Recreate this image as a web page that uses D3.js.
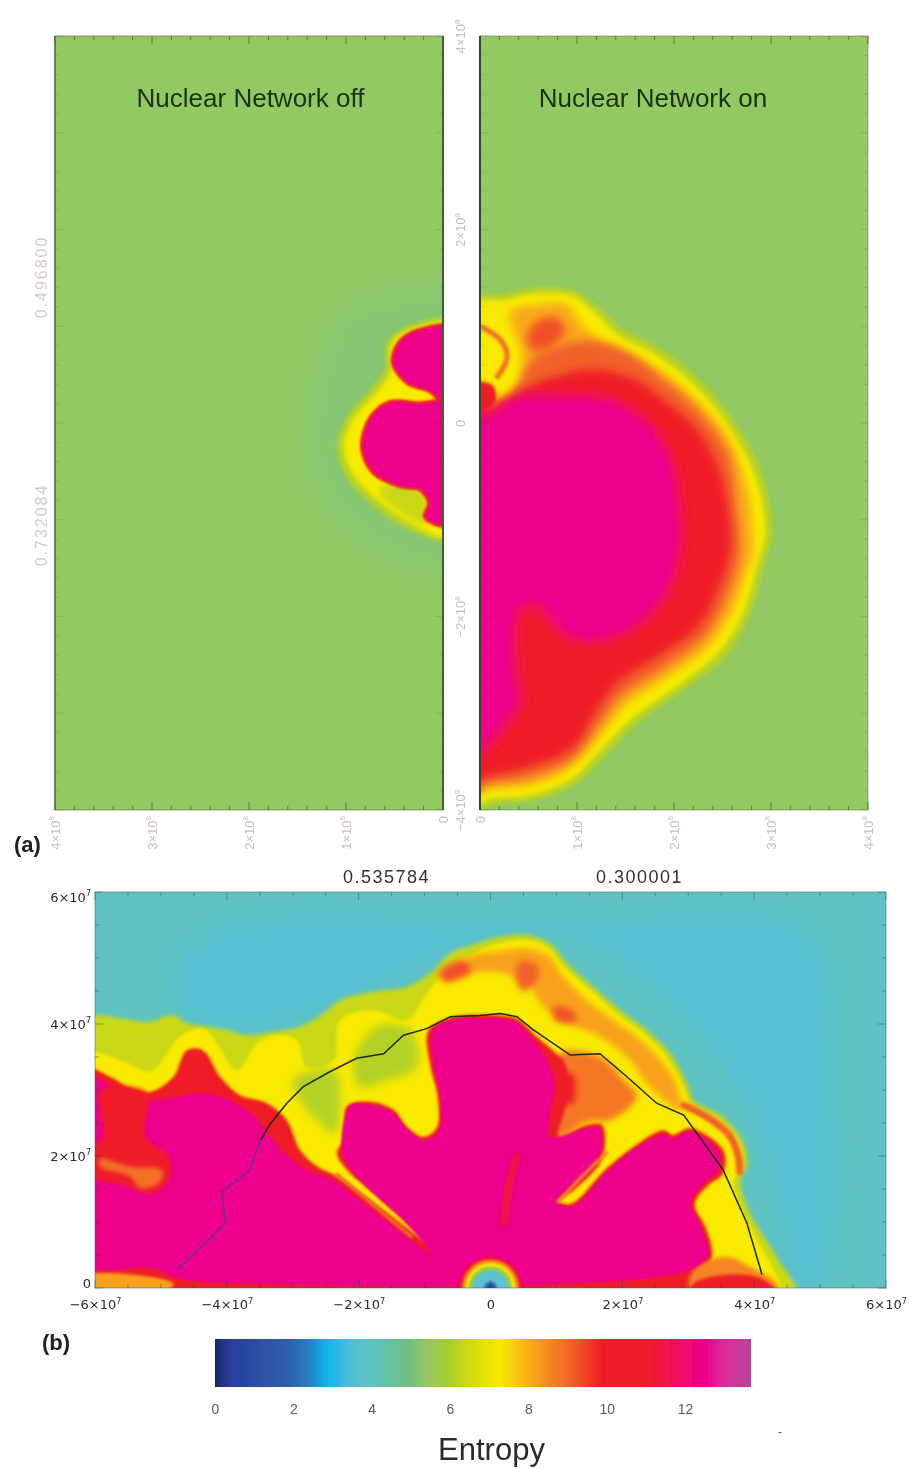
<!DOCTYPE html>
<html lang="en">
<head>
<meta charset="UTF-8">
<title>Entropy</title>
<script src="https://cdn.jsdelivr.net/npm/d3@7/dist/d3.min.js"></script>
<style>
  html, body { margin: 0; padding: 0; background: #fff; }
  svg { display: block; }
  text { font-family: "Liberation Sans", Arial, sans-serif; }
</style>
</head>
<body>
<script>
// colour bar: entropy level -> colour
var barLevels = [0, 0.12, 0.4, 1.9, 2.4, 2.85, 3.4, 3.7, 4.1, 4.9, 5.4, 5.9, 6.6, 7.25, 7.95, 8.5, 9, 9.9, 11, 11.8, 12.5, 12.9, 13.68];
var barColors = ["#1a2560", "#232f7c", "#2c3f9c", "#2f62ad", "#2a80c2", "#10b6ea", "#4cbcdc", "#5cc2d0", "#60c3b8", "#6fbf80", "#93c862", "#a6cd30", "#d8dc10", "#f8ea00", "#fab418", "#f68a20", "#f26a2a", "#ee1c25", "#ee1c2a", "#ee1060", "#ec008c", "#e0289a", "#b8459c"];
var barTicks = [0, 2, 4, 6, 8, 10, 12];

// panel (a) axes, units of 1e6
var aXTicks = [0, 100, 200, 300, 400];
var aYTicks = [400, 200, 0, -200, -400];
var aLabels = {"400": "4×10^8", "300": "3×10^8", "200": "2×10^8", "100": "1×10^8", "0": "0", "-200": "−2×10^8", "-400": "−4×10^8"};

// panel (a) left, contours [radius, height]
var offHalo = [[15,140],[100,120],[135,40],[140,-40],[100,-110],[30,-150],[-20,-150],[-20,140]];
var offEdge = [[-20,104],[37,99],[58,83],[60,55],[75,34],[99,6],[109,-25],[99,-56],[75,-83],[41,-107],[3,-122],[-20,-124]];
var offYellow = [[-20,100],[37,95],[53,81],[54,53],[69,31],[93,3],[102,-25],[93,-52],[70,-77],[39,-100],[3,-118],[-20,-120]];
var offPatch = [[66,-70],[29,-62],[15,-104],[44,-92]];
var offBlobTop = [[-20,98],[27,96],[46,83],[52,62],[37,41],[13,32],[1,21],[-20,21]];
var offBlobLow = [[-20,21],[24,21],[55,22],[75,6],[84,-25],[72,-52],[44,-66],[24,-69],[15,-83],[19,-97],[1,-107],[-20,-107]];

// panel (a) right
var onEdge = [[-20,124],[26,133],[52,139],[96,137],[121,120],[144,99],[189,75],[230,41],[261,3],[289,-49],[301,-111],[294,-142],[277,-200],[253,-242],[209,-276],[162,-310],[134,-338],[100,-372],[59,-389],[3,-398],[-20,-420]];
var onYellow = [[-20,118],[26,127],[52,133],[95,131],[118,114],[141,92],[185,68],[226,34],[256,-3],[282,-51],[294,-111],[287,-142],[270,-198],[246,-237],[204,-271],[157,-305],[129,-333],[95,-367],[55,-384],[2,-392],[-20,-420]];
var onOrange = [[31,114],[59,122],[90,122],[106,100],[144,72],[189,52],[224,22],[255,-14],[275,-66],[281,-134],[273,-157],[262,-190],[234,-232],[192,-263],[150,-291],[125,-322],[93,-356],[52,-374],[3,-380],[-20,-400],[-20,-2],[18,16],[38,34],[43,72]];
var onDeep = [[30,30],[59,70],[113,85],[155,72],[189,45],[224,14],[255,-30],[265,-90],[268,-135],[255,-180],[232,-220],[190,-253],[147,-281],[124,-310],[95,-347],[52,-366],[5,-374],[-20,-390],[-20,12]];
var onRed = [[-20,12],[18,16],[59,41],[113,55],[155,47],[189,24],[224,-7],[247,-49],[256,-90],[258,-131],[244,-176],[224,-211],[182,-242],[141,-269],[121,-296],[96,-335],[52,-355],[7,-366],[-20,-380]];
var onPink = [[-20,10],[10,12],[38,30],[86,35],[137,29],[181,0],[203,-40],[211,-83],[211,-134],[197,-180],[168,-213],[131,-230],[96,-230],[70,-210],[55,-197],[45,-200],[45,-262],[48,-292],[25,-325],[3,-345],[-20,-352]];
var onCore = [[-20,8],[7,6],[38,24],[86,27],[137,21],[175,-4],[196,-41],[203,-83],[203,-134],[189,-176],[162,-207],[131,-221],[96,-221],[75,-203],[59,-186],[41,-190],[34,-211],[34,-262],[38,-289],[18,-317],[3,-335],[-20,-345]];
var onHotSpot = [[48,88],[60,106],[80,108],[88,96],[72,78],[55,75]];
var onArc = [[2,99],[21,86],[28,68],[18,48]];
var onWallPatch = [[-20,40],[13,39],[15,21],[-20,5]];

// panel (b) axes, units of 1e5
var bXTicks = [-600, -400, -200, 0, 200, 400, 600];
var bYTicks = [0, 200, 400, 600];
var bLabels = {"-600": "−6×10^7", "-400": "−4×10^7", "-200": "−2×10^7", "0": "0", "200": "2×10^7", "400": "4×10^7", "600": "6×10^7"};

// panel (b) contours [x, y]
var bBlueZone = [[-420,540],[-60,560],[200,560],[480,540],[520,300],[510,30],[470,-20],[440,120],[400,260],[300,400],[120,530],[-60,500],[-250,420],[-420,390],[-480,450]];
var bEdge = [[-620,406],[-557,408],[-521,403],[-481,413],[-461,401],[-430,396],[-400,391],[-370,383],[-329,388],[-289,396],[-253,416],[-228,436],[-177,449],[-127,456],[-91,477],[-61,507],[-26,520],[5,530],[55,535],[90,522],[116,492],[156,456],[197,421],[237,391],[273,355],[298,310],[308,285],[353,259],[384,219],[389,184],[379,163],[394,113],[434,47],[465,-20],[-620,-20]];
var bYellow = [[-620,355],[-557,343],[-516,328],[-491,355],[-471,381],[-436,393],[-415,371],[-385,330],[-354,371],[-329,383],[-294,376],[-279,335],[-238,345],[-228,406],[-177,421],[-127,406],[-97,446],[-61,487],[-21,509],[5,520],[55,527],[85,517],[111,487],[151,451],[191,416],[232,386],[267,350],[293,305],[303,280],[348,252],[379,214],[381,179],[369,163],[384,113],[419,47],[444,-1],[450,-20],[-620,-20]];
var bGreenA = [[-299,315],[-238,330],[-228,295],[-238,235],[-263,255],[-283,275]];
var bGreenB = [[-208,345],[-172,396],[-122,391],[-112,335],[-157,315],[-198,305]];
var bShell = [[-81,472],[-26,504],[5,509],[55,514],[90,502],[106,477],[146,436],[186,406],[227,376],[262,340],[283,305],[288,270],[242,305],[207,350],[166,381],[106,406],[80,426],[55,461],[20,477],[-31,477],[-61,467]];
var bInnerOrange = [[105,355],[166,350],[202,315],[222,290],[181,254],[146,252],[100,224],[90,290]];
var bLowerOrange = [[308,27],[358,47],[394,32],[434,7],[434,-8],[303,-8]];
var bLowerRed = [[308,7],[358,20],[409,15],[430,-1],[430,-10],[300,-10]];
var bRed = [[-620,333],[-577,320],[-546,302],[-516,297],[-481,320],[-461,360],[-436,360],[-410,320],[-380,292],[-339,280],[-309,254],[-289,209],[-263,184],[-233,169],[-81,57],[-127,98],[-177,143],[-218,179],[-233,204],[-220,229],[-218,275],[-181,282],[-147,270],[-127,244],[-101,229],[-81,244],[-81,295],[-91,335],[-94,391],[-56,411],[-46,413],[15,413],[40,408],[70,381],[106,350],[111,345],[121,305],[111,264],[103,229],[146,247],[169,247],[174,219],[166,189],[126,148],[103,131],[123,128],[176,181],[217,214],[262,239],[277,232],[303,242],[353,209],[353,174],[331,156],[310,128],[328,88],[336,47],[318,22],[300,-20],[-620,-20]];
var bCore = [[-620,322],[-577,307],[-546,290],[-511,285],[-476,290],[-436,295],[-400,287],[-360,262],[-334,229],[-309,201],[-279,179],[-238,163],[-198,133],[-147,93],[-91,52],[-132,103],[-177,143],[-215,184],[-226,214],[-212,277],[-181,277],[-147,265],[-127,242],[-101,224],[-79,237],[-76,290],[-86,335],[-87,391],[-56,406],[-46,408],[15,408],[40,401],[65,376],[88,340],[98,305],[90,264],[90,229],[106,229],[146,242],[165,242],[169,219],[161,189],[126,153],[100,133],[123,123],[176,176],[217,209],[262,233],[277,227],[303,237],[346,206],[346,179],[326,161],[305,131],[321,88],[331,50],[308,30],[257,17],[55,4],[-46,2],[-76,2],[-279,4],[-471,14],[-516,30],[-620,37]];
var bLeftRed = [[-590,300],[-521,295],[-524,229],[-488,199],[-488,163],[-516,143],[-557,156],[-620,175],[-620,215],[-588,225]];
var bLeftOrange = [[-592,196],[-547,184],[-499,179],[-501,161],[-531,151],[-547,169],[-592,184]];
var bFloorRed = [[-620,37],[-516,32],[-471,16],[-400,4],[-400,-10],[-620,-10]];
var bFloorOrange = [[-620,17],[-500,14],[-480,5],[-500,-6],[-620,-6]];
var bStreakLeft = [[-233,172],[-190,136],[-147,100],[-120,78]];
var bStreakMid = [[103,131],[140,170],[176,205]];
var bStreakCentre = [[40,199],[30,163],[20,98]];
var bStreakOuter = [[293,277],[318,265],[343,249],[364,229],[376,199],[378,176]];
var bAccentA = [[45,495],[70,490],[72,470],[50,450],[38,470]];
var bAccentB = [[95,425],[125,420],[130,405],[100,405]];
var bAccentC = [[-75,480],[-40,495],[-30,480],[-70,465]];
var bAccentD = [[110,320],[125,325],[125,280],[105,285]];
var bRingRadii = [47, 43, 38, 33, 27, 10, 5];
var bRingLevels = [10.3, 8.5, 7.25, 5.6, 3.7, 2.2, 0.4];

// upper shock track, first part sits on the magenta
var trackLow = [[-473,30],[-402,98],[-407,146],[-365,179],[-349,224]];
var trackHigh = [[-349,224],[-334,249],[-309,280],[-284,305],[-243,328],[-203,348],[-162,355],[-132,383],[-97,393],[-61,411],[-16,413],[15,416],[40,411],[65,391],[121,353],[166,355],[207,320],[252,280],[293,262],[353,179],[389,98],[412,20]];

var width = 912, height = 1469;
var svg = d3.select("body").append("svg").attr("width", width).attr("height", height);
var defs = svg.append("defs");

var color = d3.scaleLinear().domain(barLevels).range(barColors).interpolate(d3.interpolateRgb);

[0.5, 0.9, 1.5, 2.2, 3, 4.5, 14].forEach(function (s) {
  defs.append("filter").attr("id", "blur" + String(s).replace(".", "_"))
    .attr("filterUnits", "userSpaceOnUse")
    .attr("x", 0).attr("y", 0).attr("width", width).attr("height", height)
    .append("feGaussianBlur").attr("stdDeviation", s);
});
function blurId(s) { return "url(#blur" + String(s).replace(".", "_") + ")"; }

function addClip(id, x0, y0, x1, y1) {
  defs.append("clipPath").attr("id", id).append("rect")
    .attr("x", x0).attr("y", y0).attr("width", x1 - x0).attr("height", y1 - y0);
}

function region(g, x, y, pts, level, blur) {
  var line = d3.line().x(function (d) { return x(d[0]); }).y(function (d) { return y(d[1]); })
    .curve(d3.curveCatmullRomClosed.alpha(0.5));
  return g.append("path").attr("d", line(pts)).attr("fill", color(level)).attr("filter", blurId(blur));
}
function streak(g, x, y, pts, level, w, blur) {
  var line = d3.line().x(function (d) { return x(d[0]); }).y(function (d) { return y(d[1]); })
    .curve(d3.curveCatmullRom.alpha(0.5));
  return g.append("path").attr("d", line(pts)).attr("fill", "none").attr("stroke", color(level))
    .attr("stroke-width", w).attr("stroke-linecap", "round").attr("filter", blurId(blur));
}

// "4×10^8" -> text plus a raised exponent
function sciText(sel, str, size) {
  var parts = str.split("^");
  sel.text(parts[0]);
  if (parts[1]) {
    sel.append("tspan").attr("dy", -size * 0.42).attr("font-size", size * 0.62).text(parts[1]);
  }
}

// ---- panel (a)
var aTop = 36, aBottom = 810;
var yA = d3.scaleLinear().domain([400, -400]).range([aTop, aBottom]);
var xOff = d3.scaleLinear().domain([400, 0]).range([55, 443]);
var xOn = d3.scaleLinear().domain([0, 400]).range([480, 868]);
addClip("clipOff", 55, aTop, 443, aBottom);
addClip("clipOn", 480, aTop, 868, aBottom);

var gOff = svg.append("g").attr("clip-path", "url(#clipOff)");
gOff.append("rect").attr("x", 55).attr("y", aTop).attr("width", 388).attr("height", aBottom - aTop).attr("fill", color(5.4));
region(gOff, xOff, yA, offHalo, 4.6, 14).attr("opacity", 0.3);
region(gOff, xOff, yA, offEdge, 6.2, 2.2);
region(gOff, xOff, yA, offYellow, 7.25, 2.2);
region(gOff, xOff, yA, offPatch, 6.4, 3);
[offBlobTop, offBlobLow].forEach(function (b) {
  region(gOff, xOff, yA, b, 12.5, 0.9).attr("stroke", color(10)).attr("stroke-width", 3);
});

var gOn = svg.append("g").attr("clip-path", "url(#clipOn)");
gOn.append("rect").attr("x", 480).attr("y", aTop).attr("width", 388).attr("height", aBottom - aTop).attr("fill", color(5.4));
region(gOn, xOn, yA, onEdge, 6.2, 2.2);
region(gOn, xOn, yA, onYellow, 7.25, 2.2);
region(gOn, xOn, yA, onOrange, 8.1, 4.5);
region(gOn, xOn, yA, onHotSpot, 9.3, 4.5);
region(gOn, xOn, yA, onDeep, 9.1, 4.5);
streak(gOn, xOn, yA, onArc, 9, 5, 1.5);
region(gOn, xOn, yA, onWallPatch, 10.5, 1.5);
region(gOn, xOn, yA, onRed, 10.4, 4.5);
region(gOn, xOn, yA, onPink, 11.5, 4.5);
region(gOn, xOn, yA, onCore, 12.5, 4.5);

// frame and ticks, the side ticks can be fainter than the top and bottom ones
function panelTicks(x, y, x0, x1, y0, y1, major, step, stroke, sideStroke) {
  var g = svg.append("g").attr("fill", "none");
  var xVals = d3.range(d3.min(x.domain()), d3.max(x.domain()) + 0.001, step);
  var yVals = d3.range(d3.min(y.domain()), d3.max(y.domain()) + 0.001, step);
  function len(v) { return v % major === 0 ? 8 : 4; }
  [[y1, -1], [y0, 1]].forEach(function (e) {
    g.selectAll(null).data(xVals).enter().append("line")
      .attr("x1", function (d) { return x(d); }).attr("x2", function (d) { return x(d); })
      .attr("y1", e[0]).attr("y2", function (d) { return e[0] + e[1] * len(d); })
      .attr("stroke", stroke);
  });
  [[x0, 1], [x1, -1]].forEach(function (e) {
    g.selectAll(null).data(yVals).enter().append("line")
      .attr("y1", function (d) { return y(d); }).attr("y2", function (d) { return y(d); })
      .attr("x1", e[0]).attr("x2", function (d) { return e[0] + e[1] * len(d); })
      .attr("stroke", sideStroke);
  });
  return g;
}
panelTicks(xOff, yA, 55, 443, aTop, aBottom, 100, 20, "rgba(40,90,30,0.6)", "rgba(40,90,30,0.15)").attr("filter", blurId(0.5));
panelTicks(xOn, yA, 480, 868, aTop, aBottom, 100, 20, "rgba(40,90,30,0.6)", "rgba(40,90,30,0.15)").attr("filter", blurId(0.5));

svg.append("rect").attr("x", 55).attr("y", aTop).attr("width", 388).attr("height", aBottom - aTop)
  .attr("fill", "none").attr("stroke", "rgba(50,90,40,0.5)").attr("stroke-width", 1);
svg.append("rect").attr("x", 480).attr("y", aTop).attr("width", 388).attr("height", aBottom - aTop)
  .attr("fill", "none").attr("stroke", "rgba(50,90,40,0.4)").attr("stroke-width", 1);
svg.append("line").attr("x1", 55).attr("x2", 55).attr("y1", aTop).attr("y2", aBottom).attr("stroke", "#4d7a3a").attr("stroke-width", 1.5);
svg.append("line").attr("x1", 443).attr("x2", 443).attr("y1", aTop).attr("y2", aBottom).attr("stroke", "#3f5f30").attr("stroke-width", 2);
svg.append("line").attr("x1", 480).attr("x2", 480).attr("y1", aTop).attr("y2", aBottom).attr("stroke", "#33482c").attr("stroke-width", 2);

// soft text layer, the filter sits on a group with no offset
var softText = svg.append("g").attr("filter", blurId(0.5));

// faint rotated labels of panel (a)
var faint = "#c9bcc4";
function faintAxisX(x, vals) {
  var g = softText.append("g").attr("transform", "translate(0," + aBottom + ")")
    .call(d3.axisBottom(x).tickValues(vals).tickSize(0).tickFormat(function () { return ""; }));
  g.select(".domain").remove();
  g.selectAll("text").attr("fill", faint).attr("font-size", 13).attr("text-anchor", "end")
    .attr("x", 0).attr("dy", 0).attr("y", 0)
    .attr("transform", "translate(4,6) rotate(-90)")
    .each(function (d) { sciText(d3.select(this), aLabels[d], 13); });
}
faintAxisX(xOff, aXTicks.slice(1).concat([0]));
faintAxisX(xOn, aXTicks);

var gutter = softText.append("g").attr("transform", "translate(461,0)")
  .call(d3.axisRight(yA).tickValues(aYTicks).tickSize(0).tickFormat(function () { return ""; }));
gutter.select(".domain").remove();
gutter.selectAll("text").attr("fill", faint).attr("font-size", 13).attr("text-anchor", "middle")
  .attr("x", 0).attr("y", 0).attr("dy", 0).attr("transform", "translate(4,0) rotate(-90)")
  .each(function (d) { sciText(d3.select(this), aLabels[d], 13); });

[["0.496800", 277], ["0.732084", 525]].forEach(function (t) {
  softText.append("text").text(t[0]).attr("transform", "translate(47," + t[1] + ") rotate(-90)")
    .attr("text-anchor", "middle").attr("font-size", 16).attr("letter-spacing", 2)
    .attr("fill", "#d5c8d0");
});

var titleColor = "#1c3318";
softText.append("text").text("Nuclear Network off").attr("x", 250.5).attr("y", 107).attr("text-anchor", "middle")
  .attr("font-size", 26).attr("fill", titleColor);
softText.append("text").text("Nuclear Network on").attr("x", 653).attr("y", 107).attr("text-anchor", "middle")
  .attr("font-size", 26).attr("fill", titleColor);
softText.append("text").text("(a)").attr("x", 14).attr("y", 852).attr("font-size", 22).attr("font-weight", "bold").attr("fill", "#222");
softText.append("text").text("(b)").attr("x", 42).attr("y", 1350).attr("font-size", 22).attr("font-weight", "bold").attr("fill", "#222");
softText.append("text").text("0.535784").attr("x", 386.5).attr("y", 883).attr("text-anchor", "middle").attr("font-size", 18).attr("letter-spacing", 1.5).attr("fill", "#333");
softText.append("text").text("0.300001").attr("x", 639.5).attr("y", 883).attr("text-anchor", "middle").attr("font-size", 18).attr("letter-spacing", 1.5).attr("fill", "#333");

// ---- panel (b)
var bLeft = 95, bRight = 886, bTop = 892, bBottom = 1288;
var xB = d3.scaleLinear().domain([-600, 600]).range([bLeft, bRight]);
var yB = d3.scaleLinear().domain([0, 600]).range([bBottom, bTop]);
addClip("clipB", bLeft, bTop, bRight, bBottom);

var gB = svg.append("g").attr("clip-path", "url(#clipB)");
gB.append("rect").attr("x", bLeft).attr("y", bTop).attr("width", bRight - bLeft).attr("height", bBottom - bTop).attr("fill", color(3.95));
region(gB, xB, yB, bBlueZone, 3.6, 14);
region(gB, xB, yB, bEdge, 6.4, 2.2);
region(gB, xB, yB, bYellow, 7.25, 1.5);
region(gB, xB, yB, bGreenA, 6.1, 4.5);
region(gB, xB, yB, bGreenB, 6.1, 4.5);
region(gB, xB, yB, bShell, 8.2, 3);
region(gB, xB, yB, bAccentA, 9.1, 3);
region(gB, xB, yB, bAccentB, 9.3, 3);
region(gB, xB, yB, bAccentC, 9.3, 3);
region(gB, xB, yB, bInnerOrange, 8.8, 3);
region(gB, xB, yB, bAccentD, 10.2, 3);
streak(gB, xB, yB, bStreakOuter, 9.1, 7, 1.5);
region(gB, xB, yB, bRed, 10.3, 1.5);
region(gB, xB, yB, bLowerOrange, 8.6, 2.2);
region(gB, xB, yB, bLowerRed, 10.2, 1.5);
region(gB, xB, yB, bFloorRed, 10.3, 0.9);
region(gB, xB, yB, bCore, 12.5, 0.9);
region(gB, xB, yB, bLeftRed, 10.4, 2.2);
region(gB, xB, yB, bLeftOrange, 8.9, 2.2);
region(gB, xB, yB, bFloorOrange, 8.2, 1.5);
streak(gB, xB, yB, bStreakLeft, 9, 3.5, 0.9);
streak(gB, xB, yB, bStreakMid, 8.6, 3.5, 0.9);
streak(gB, xB, yB, bStreakCentre, 11, 6, 2.2);

gB.selectAll("circle.ring").data(bRingRadii).enter().append("circle")
  .attr("class", "ring")
  .attr("cx", xB(0)).attr("cy", yB(0))
  .attr("r", function (d) { return xB(d) - xB(0); })
  .attr("fill", function (d, i) { return color(bRingLevels[i]); })
  .attr("filter", blurId(0.9));

var track = d3.line().x(function (d) { return xB(d[0]); }).y(function (d) { return yB(d[1]); });
gB.append("path").attr("d", track(trackLow)).attr("fill", "none").attr("stroke", "#7a2a96").attr("stroke-width", 1.6).attr("filter", blurId(0.5));
gB.append("path").attr("d", track(trackHigh)).attr("fill", "none").attr("stroke", "#1f2a14").attr("stroke-width", 1.5).attr("filter", blurId(0.5));

panelTicks(xB, yB, bLeft, bRight, bTop, bBottom, 200, 50, "rgba(25,70,70,0.4)", "rgba(25,70,70,0.4)").attr("filter", blurId(0.5));
svg.append("rect").attr("x", bLeft).attr("y", bTop).attr("width", bRight - bLeft).attr("height", bBottom - bTop)
  .attr("fill", "none").attr("stroke", "rgba(40,100,100,0.5)");

var xAxisB = softText.append("g").attr("transform", "translate(0," + bBottom + ")")
  .call(d3.axisBottom(xB).tickValues(bXTicks).tickSize(0).tickPadding(12).tickFormat(function () { return ""; }));
xAxisB.select(".domain").remove();
xAxisB.selectAll("text").style("font-family", "'DejaVu Sans'").attr("font-size", 13).attr("fill", "#2a2a2a")
  .each(function (d) { sciText(d3.select(this), bLabels[d], 13); });

// top and bottom labels of the y axis sit a little inside the frame
var yNudge = {"600": 5, "0": -5};
var yAxisB = softText.append("g").attr("transform", "translate(" + bLeft + ",0)")
  .call(d3.axisLeft(yB).tickValues(bYTicks).tickSize(0).tickPadding(4).tickFormat(function () { return ""; }));
yAxisB.select(".domain").remove();
yAxisB.selectAll("text").style("font-family", "'DejaVu Sans'").attr("font-size", 13).attr("fill", "#2a2a2a")
  .attr("y", function (d) { return yNudge[d] || 0; })
  .each(function (d) { sciText(d3.select(this), bLabels[d], 13); });

// ---- colour bar
var xBar = d3.scaleLinear().domain([0, 12]).range([215, 685]);
var barStep = 0.02;
defs.append("clipPath").attr("id", "clipBar").append("rect").attr("x", 215).attr("y", 1339).attr("width", xBar(13.68) - 215).attr("height", 48);
svg.append("g").attr("clip-path", "url(#clipBar)").append("g").attr("filter", blurId(0.5))
  .selectAll("rect").data(d3.range(0, 13.68, barStep)).enter().append("rect")
  .attr("x", function (d) { return xBar(d); })
  .attr("y", 1337)
  .attr("width", xBar(barStep) - xBar(0) + 1)
  .attr("height", 52)
  .attr("fill", function (d) { return color(d); });

var barAxis = softText.append("g").attr("transform", "translate(0,1387)")
  .call(d3.axisBottom(xBar).tickValues(barTicks).tickSize(0).tickPadding(17));
barAxis.select(".domain").remove();
barAxis.selectAll("text").attr("font-size", 14).attr("fill", "#5a5a5a");

softText.append("text").text("Entropy").attr("x", 491.5).attr("y", 1460).attr("text-anchor", "middle").attr("font-size", 31).attr("fill", "#2a2a2a");
softText.append("text").text("-").attr("x", 780).attr("y", 1436).attr("text-anchor", "middle").attr("font-size", 12).attr("fill", "#555");
</script>
</body>
</html>
